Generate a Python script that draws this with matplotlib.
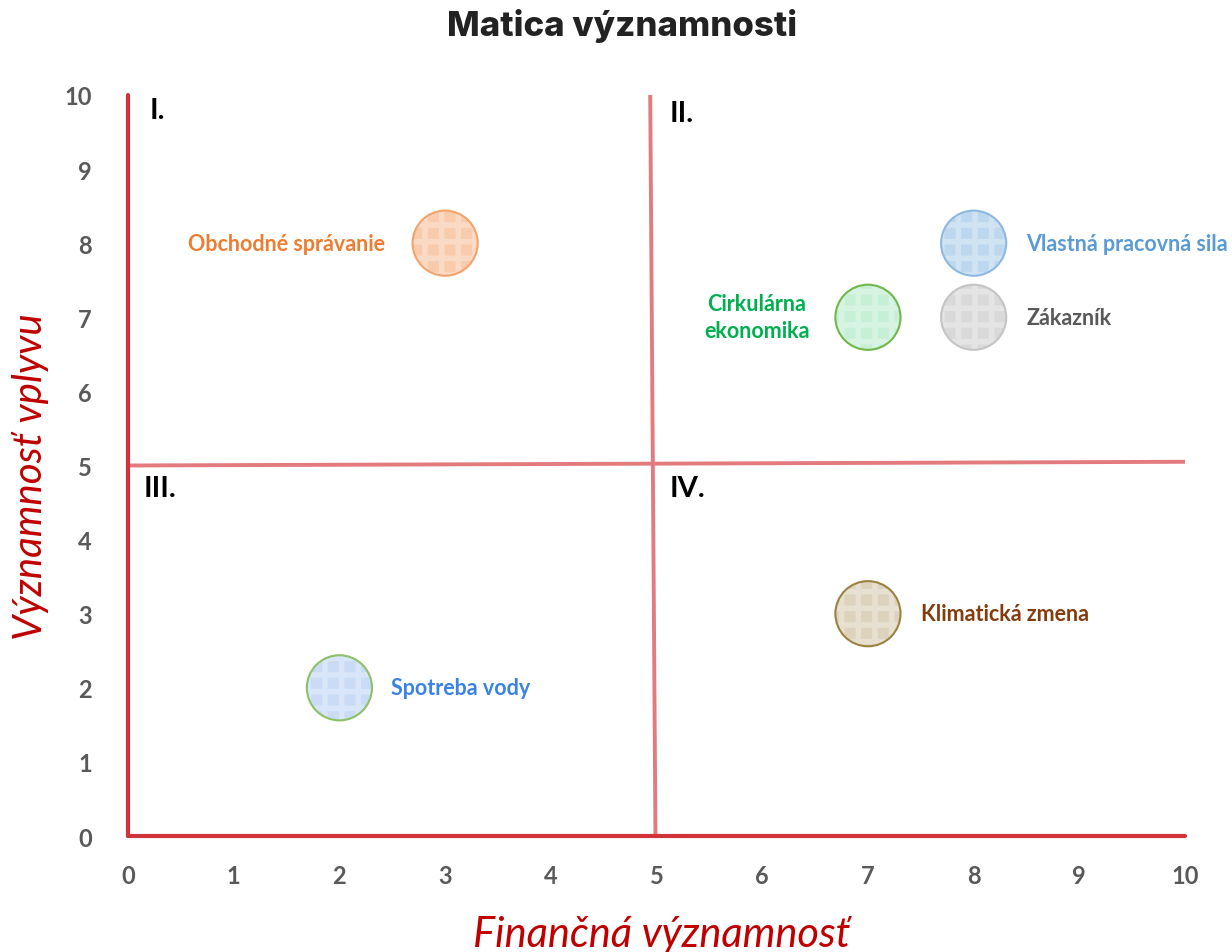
import matplotlib.pyplot as plt

# Bubble data
topics = ["Obchodné správanie", "Vlastná pracovná sila", "Cirkulárna\nekonomika",
          "Zákazník", "Klimatická zmena", "Spotreba vody"]
financial = [3, 8, 7, 8, 7, 2]
impact = [8, 8, 7, 7, 3, 2]
fill_colors = ["#F8CBAD", "#BDD7EE", "#C6EFD6", "#D9D9D9", "#DDD3BC", "#C9DBF5"]
edge_colors = ["#F4A46A", "#8DB8E2", "#70B84A", "#C4C4C4", "#9C8240", "#8CC06A"]
text_colors = ["#ED7D31", "#5B9BD5", "#00B050", "#595959", "#843C0C", "#3B82E8"]
label_x = [2.43, 8.5, 5.95, 8.5, 7.5, 2.49]
label_ha = ["right", "left", "center", "left", "left", "left"]

quadrants = ["I.", "II.", "III.", "IV."]
quad_x = [0.2, 5.12, 0.15, 5.12]
quad_y = [9.8, 9.75, 4.7, 4.7]

ticks = list(range(0, 11))

plt.rcParams["hatch.linewidth"] = 4

fig = plt.figure(figsize=(12.32, 9.53), dpi=100)
ax = fig.add_axes([0.1039, 0.1217, 0.858, 0.7776])
ax.set_xlim(0, 10)
ax.set_ylim(0, 10)

red = "#D0333A"
for s in ["top", "right"]:
    ax.spines[s].set_visible(False)
for s in ["left", "bottom"]:
    ax.spines[s].set_color(red)
    ax.spines[s].set_linewidth(3)
    ax.spines[s].set_capstyle("round")

# quadrant dividers (slightly slanted as in the original)
ax.plot([4.94, 4.99], [10.05, 0], color="#E27A7E", lw=2.8, solid_capstyle="butt", zorder=1)
ax.plot([0, 10], [5.0, 5.05], color="#E27A7E", lw=2.8, solid_capstyle="butt", zorder=1)

ax.set_xticks(ticks)
ax.set_yticks(ticks)
ax.tick_params(length=0, labelsize=17, labelcolor="#595959")
ax.tick_params(axis="x", pad=20)
ax.tick_params(axis="y", pad=26)
for lab in ax.get_xticklabels() + ax.get_yticklabels():
    lab.set_fontweight("bold")
    lab.set_family("Lato")

# bubbles: fill with checkered hatch, then outline
ax.scatter(financial, impact, s=2200, c=fill_colors, edgecolors=(1, 1, 1, 0.3),
           linewidths=0, hatch="+", zorder=3)
ax.scatter(financial, impact, s=2200, facecolors="none", edgecolors=edge_colors,
           linewidths=1.5, zorder=4)

for t, lx, y, col, ha in zip(topics, label_x, impact, text_colors, label_ha):
    ax.text(lx, y, t, color=col, ha=ha, va="center", fontsize=15.5,
            fontweight="bold", family="Lato", linespacing=1.35)

for q, qx, qy in zip(quadrants, quad_x, quad_y):
    ax.text(qx, qy, q, fontsize=21, fontweight="bold", family="Lato",
            color="black", va="center", ha="left")

fig.text(0.505, 0.973, "Matica významnosti", ha="center", va="center",
         fontsize=25, fontweight="heavy", family="Inter", color="#222222")
fig.text(0.537, 0.019, "Finančná významnosť", ha="center", va="center",
         fontsize=30, style="italic", family="Lato", color="#C00000")
fig.text(0.025, 0.5, "Významnosť vplyvu", ha="center", va="center",
         fontsize=29, style="italic", family="Lato", color="#C00000", rotation=90)

fig.savefig("out.png", dpi=100)
